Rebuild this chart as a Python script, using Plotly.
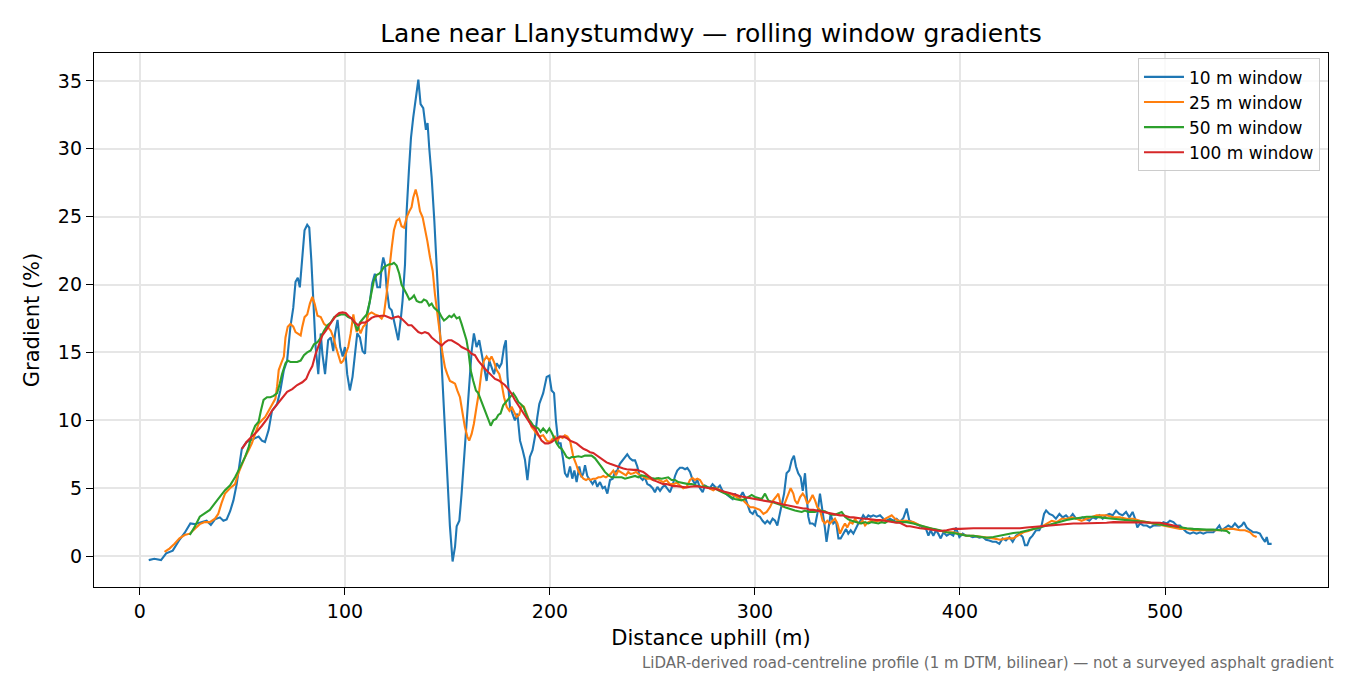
"""Rolling window gradients for the lane near Llanystumdwy, redrawn with plotly."""

import plotly.graph_objects as go

# 10 m window
dist_10 = [4.3, 7.0, 10.3, 12.8, 16.0, 19.3, 21.8, 24.6, 26.7, 29.2, 32.5, 34.6, 36.6, 39.0, 40.7, 42.3,
           44.0, 45.6, 47.2, 48.9, 49.7, 52.0, 55.4, 57.9, 59.5, 61.0, 62.8, 64.4, 66.9, 68.5, 70.2,
           71.8, 73.4, 74.8, 75.9, 77.0, 78.0, 79.2, 80.3, 81.6, 82.6, 83.6, 84.6, 85.7, 87.0, 88.2,
           89.0, 90.3, 91.8, 93.1, 94.3, 95.2, 96.4, 97.7, 98.9, 100.0, 101.1, 102.4, 103.7, 104.9,
           106.0, 107.3, 108.6, 109.8, 110.9, 112.2, 113.3, 114.6, 115.8, 117.1, 117.9, 118.7, 119.5,
           120.3, 121.6, 122.8, 123.9, 124.9, 126.0, 127.2, 128.1, 129.3, 130.1, 131.2, 132.2, 133.3,
           134.6, 135.8, 136.9, 138.2, 139.5, 140.3, 141.1, 142.3, 143.6, 145.0, 146.3, 147.6, 148.8,
           149.9, 151.2, 152.5, 153.7, 154.5, 155.8, 156.9, 158.0, 159.3, 160.6, 161.8, 162.9, 164.2,
           165.5, 166.7, 167.8, 169.1, 170.4, 171.5, 172.7, 174.0, 175.3, 176.4, 177.6, 178.5, 179.3,
           180.5, 181.8, 182.9, 184.1, 185.4, 186.7, 187.8, 189.0, 190.2, 191.5, 192.7, 193.8, 194.8,
           196.7, 198.4, 199.7, 200.8, 202.0, 202.9, 204.1, 205.2, 206.5, 207.3, 208.5, 209.8, 210.9,
           211.9, 213.0, 214.3, 215.4, 216.3, 217.1, 218.2, 219.5, 220.8, 222.0, 223.1, 224.4, 225.7,
           226.8, 228.0, 229.3, 230.6, 231.7, 232.8, 234.1, 235.4, 236.6, 237.7, 239.0, 240.3, 241.5,
           242.6, 243.9, 245.2, 246.3, 247.5, 248.8, 250.1, 251.2, 252.4, 253.7, 255.0, 256.1, 257.2,
           258.5, 259.8, 261.0, 262.1, 263.4, 264.7, 265.9, 267.0, 268.3, 269.6, 270.7, 271.9, 273.2,
           274.5, 275.6, 276.7, 278.0, 279.3, 280.5, 281.6, 282.9, 284.2, 285.4, 286.5, 287.8, 289.1,
           290.2, 291.4, 292.7, 294.0, 295.1, 296.3, 297.6, 298.9, 300.0, 301.1, 302.4, 303.7, 304.9,
           306.0, 307.3, 308.6, 309.8, 310.9, 311.9, 313.0, 314.2, 315.4, 316.7, 317.9, 319.0, 320.0,
           321.1, 322.3, 323.3, 324.4, 325.2, 326.0, 326.8, 328.1, 329.3, 330.4, 331.7, 333.0, 334.1,
           334.9, 335.8, 336.9, 338.2, 339.5, 340.7, 341.8, 343.1, 344.4, 345.5, 346.7, 348.0, 349.3,
           350.4, 351.5, 352.8, 354.1, 355.3, 356.4, 357.7, 359.3, 361.0, 362.6, 364.2, 365.9, 367.5,
           369.1, 370.7, 372.4, 374.0, 375.3, 376.9, 378.5, 380.2, 381.8, 383.4, 384.6, 385.7, 387.0,
           388.3, 389.4, 390.6, 391.9, 393.5, 395.1, 396.7, 398.0, 399.7, 401.3, 402.9, 404.6, 406.2,
           407.8, 409.4, 411.1, 412.7, 414.3, 415.9, 417.6, 419.2, 420.8, 422.4, 424.1, 425.7, 427.3,
           429.0, 430.6, 431.7, 432.8, 434.1, 435.4, 437.1, 438.7, 439.8, 441.0, 442.0, 443.6, 445.2,
           446.8, 448.5, 450.1, 451.7, 453.3, 455.0, 456.6, 458.2, 459.8, 461.5, 463.1, 464.7, 466.3,
           468.0, 469.6, 471.2, 472.8, 474.5, 476.1, 477.7, 479.3, 481.0, 482.6, 484.2, 485.4, 486.5,
           487.8, 489.4, 491.1, 492.7, 494.3, 495.9, 497.6, 499.2, 500.8, 502.4, 504.1, 505.7, 507.3,
           508.9, 510.6, 512.2, 513.8, 515.4, 517.1, 518.7, 520.3, 522.0, 523.6, 525.2, 526.5, 527.6,
           529.3, 530.9, 532.5, 534.1, 535.8, 537.4, 538.5, 539.8, 541.5, 543.1, 544.7, 546.3, 547.6,
           548.8, 549.6, 550.4, 552.0]
grad_10 = [-0.3, -0.2, -0.3, 0.2, 0.4, 1.2, 1.7, 2.4, 2.35, 2.45, 2.6, 2.3, 2.7, 2.85, 2.6, 2.7,
           3.3, 4.1, 5.3, 7.1, 7.9, 8.4, 8.65, 8.8, 8.5, 8.4, 9.3, 10.7, 11.2, 12.2, 13.7,
           14.4, 16.9, 18.3, 20.2, 20.5, 19.8, 22.0, 24.0, 24.4, 24.2, 21.8, 18.6, 15.4, 13.4, 16.4,
           14.9, 13.4, 15.9, 16.1, 15.1, 16.4, 17.4, 15.4, 14.7, 15.4, 13.4, 12.2, 13.2, 15.1,
           16.4, 16.1, 15.1, 14.9, 17.8, 18.8, 20.1, 20.8, 19.8, 19.8, 21.3, 22.0, 21.5,
           19.8, 18.3, 18.1, 17.4, 16.6, 15.9, 17.4, 18.8, 21.5, 25.4, 28.4, 30.8, 32.3,
           33.8, 35.1, 33.3, 33.0, 31.4, 31.9, 30.1, 27.9, 24.7, 20.5, 16.4, 13.2, 9.5,
           5.8, 2.2, -0.4, 0.7, 2.2, 2.6, 4.6, 7.1, 9.5, 12.7, 15.1, 16.4, 15.4,
           15.9, 14.9, 13.9, 12.9, 14.4, 13.9, 13.4, 14.2, 13.9, 14.2, 15.4, 15.9, 13.2,
           11.0, 10.5, 10.0, 10.5, 8.5, 7.8, 7.1, 5.6, 7.3, 7.8, 8.8, 10.2, 11.2,
           12.0, 13.2, 13.3, 12.2, 12.0, 10.0, 8.3, 8.3, 7.05, 6.1, 5.8, 6.6, 5.7,
           6.3, 5.45, 6.6, 5.8, 6.1, 6.7, 5.9, 5.6, 5.3, 5.6, 5.1, 5.45, 5.0,
           5.1, 4.6, 5.6, 5.7, 6.2, 6.3, 6.8, 7.05, 7.2, 7.5, 7.2, 7.05, 7.05,
           6.6, 5.8, 5.6, 5.8, 5.3, 5.2, 5.0, 4.7, 5.1, 4.8, 5.1, 5.2, 5.0,
           4.7, 5.2, 5.9, 6.3, 6.5, 6.5, 6.4, 6.5, 6.2, 5.6, 5.3, 5.6, 5.0,
           4.7, 5.2, 5.1, 5.0, 5.3, 5.1, 5.0, 5.2, 4.8, 4.7, 4.5, 4.35, 4.2,
           4.6, 4.35, 4.35, 4.7, 4.35, 3.85, 3.25, 3.1, 3.4, 3.0, 2.9, 2.6, 2.4,
           2.6, 2.4, 2.75, 2.6, 2.25, 2.9, 3.6, 4.6, 6.1, 6.3, 7.05, 7.4, 6.6,
           6.1, 5.8, 4.8, 6.1, 4.6, 2.9, 2.4, 2.4, 2.25, 3.1, 4.6, 3.4, 2.1,
           1.05, 2.1, 3.1, 2.4, 2.6, 1.3, 1.3, 1.65, 2.0, 1.65, 1.9, 1.65, 2.1,
           2.4, 2.6, 3.0, 2.75, 3.0, 2.9, 3.0, 2.9, 3.0, 2.75, 2.6, 2.75, 2.6,
           2.75, 2.5, 2.8, 3.5, 2.6, 2.5, 2.4, 2.25, 2.1, 2.0, 1.5, 1.9, 1.5,
           1.9, 1.65, 1.3, 1.75, 1.5, 1.65, 1.5, 2.1, 1.4, 1.65, 1.5, 1.5, 1.4,
           1.45, 1.35, 1.4, 1.2, 1.15, 1.05, 1.05, 0.9, 1.3, 1.15, 1.4, 1.05, 1.5,
           1.65, 1.4, 0.8, 0.8, 1.3, 1.5, 1.9, 1.9, 2.25, 3.1, 3.35, 3.1, 3.0,
           2.75, 3.1, 2.85, 3.0, 2.75, 3.1, 2.75, 2.75, 2.85, 2.75, 2.6, 2.85, 2.75,
           3.0, 2.75, 3.0, 3.1, 3.0, 3.35, 3.1, 3.0, 3.25, 2.85, 3.25, 2.75, 2.1,
           2.4, 2.25, 2.25, 2.1, 2.25, 2.25, 2.25, 2.5, 2.4, 2.6, 2.5, 2.25, 2.25,
           2.0, 1.75, 1.65, 1.75, 1.65, 1.75, 1.65, 1.75, 1.75, 1.75, 2.0, 2.25, 1.9,
           2.1, 2.25, 2.1, 2.4, 2.1, 2.25, 2.5, 2.1, 1.9, 1.75, 1.75, 1.65, 1.3,
           1.05, 1.4, 0.9, 0.9]

# 25 m window
dist_25 = [12.0, 14.4, 16.9, 19.3, 21.8, 24.3, 26.7, 29.2, 31.6, 34.1, 36.6, 38.2, 39.8, 41.5, 43.9,
           46.4, 48.0, 49.7, 51.3, 53.0, 54.6, 56.2, 57.9, 59.5, 61.1, 62.8, 64.4, 66.1, 66.9, 67.7,
           68.9, 70.2, 71.0, 72.1, 73.4, 74.8, 75.9, 77.0, 78.4, 79.2, 80.3, 81.6, 82.9, 84.1, 85.2,
           86.6, 88.2, 89.8, 91.5, 93.1, 94.4, 95.6, 96.7, 98.0, 99.2, 100.5, 101.6, 102.8, 104.1,
           104.9, 105.7, 106.5, 107.6, 108.9, 110.2, 111.4, 113.0, 114.6, 116.3, 117.9, 119.0, 120.3,
           121.6, 122.8, 123.9, 125.2, 126.5, 127.6, 128.8, 130.1, 131.4, 132.5, 133.3, 134.5, 135.5,
           136.6, 137.9, 139.0, 140.2, 141.5, 142.8, 143.9, 145.0, 146.3, 147.6, 148.8, 149.9, 151.2,
           152.5, 153.7, 154.8, 156.1, 157.4, 158.5, 159.7, 160.6, 161.8, 162.9, 164.2, 165.5, 166.7,
           167.8, 169.1, 170.4, 171.5, 172.7, 174.0, 175.3, 176.4, 177.6, 178.9, 180.2, 181.3, 182.4,
           183.7, 185.0, 186.2, 187.3, 188.6, 189.9, 191.1, 192.2, 193.5, 194.8, 196.7, 198.4, 200.0,
           201.3, 202.4, 203.6, 204.9, 206.2, 207.3, 208.5, 209.8, 210.6, 211.4, 212.7, 213.8, 215.0,
           216.3, 217.6, 218.7, 219.8, 221.1, 222.4, 223.6, 224.7, 226.0, 227.3, 228.5, 229.6, 230.9,
           232.2, 233.3, 234.5, 235.8, 237.1, 238.2, 239.3, 240.7, 242.0, 243.1, 244.2, 245.5, 247.2,
           248.8, 250.4, 252.0, 253.7, 255.3, 256.9, 258.5, 260.2, 261.8, 263.4, 265.0, 266.7, 268.3,
           269.6, 270.7, 271.9, 273.2, 274.8, 276.4, 278.0, 279.7, 281.3, 282.9, 284.6, 286.2, 287.8,
           289.4, 291.1, 292.7, 294.3, 295.9, 297.6, 299.2, 300.8, 302.4, 304.1, 305.7, 307.3, 308.9,
           310.2, 311.4, 312.5, 313.8, 315.1, 316.3, 317.4, 318.7, 319.5, 320.7, 322.0, 323.3, 324.4,
           325.5, 326.8, 328.1, 329.3, 330.4, 331.7, 333.0, 334.1, 335.3, 336.6, 337.9, 339.0, 340.2,
           341.5, 342.8, 343.9, 345.0, 346.3, 347.6, 348.8, 349.9, 351.2, 352.5, 353.7, 355.3, 356.9,
           358.5, 360.2, 361.8, 363.4, 365.0, 366.7, 368.3, 369.9, 371.5, 374.0, 377.2, 380.5, 383.7,
           387.0, 390.2, 393.5, 396.7, 400.0, 403.3, 406.5, 409.8, 413.0, 416.3, 419.5, 422.8, 426.0,
           428.5, 430.9, 433.3, 435.8, 439.0, 442.3, 444.7, 447.2, 449.6, 452.0, 454.5, 456.9, 459.3,
           461.8, 464.2, 466.7, 469.1, 471.5, 474.8, 478.0, 481.3, 484.6, 487.8, 491.1, 494.3, 497.6,
           500.8, 504.1, 507.3, 510.6, 513.8, 517.1, 520.3, 523.6, 526.8, 530.1, 533.3, 536.6, 539.0,
           541.5, 543.1, 544.7]
grad_25 = [0.3, 0.55, 0.9, 1.3, 1.55, 1.65, 2.0, 2.35, 2.5, 2.5, 2.75, 3.1, 3.9, 4.6, 5.0,
           5.3, 6.1, 6.8, 7.3, 7.8, 8.3, 9.0, 9.75, 10.0, 10.25, 10.7, 11.1, 11.6, 12.5, 13.7,
           14.2, 14.7, 16.1, 16.9, 17.1, 16.9, 16.5, 16.4, 16.25, 16.9, 17.6, 17.8, 18.6, 19.1, 18.6,
           17.7, 17.6, 17.1, 16.9, 16.6, 16.1, 15.4, 14.9, 14.2, 14.4, 14.9, 15.4, 16.4, 17.8,
           17.1, 16.5, 16.9, 16.4, 16.9, 17.1, 17.8, 17.95, 17.8, 17.7, 17.5, 17.8, 19.3,
           21.3, 22.7, 24.0, 24.7, 24.85, 24.3, 24.2, 24.95, 25.4, 25.7, 26.4, 27.0, 26.4,
           25.4, 24.95, 24.2, 23.2, 22.0, 21.0, 19.3, 17.8, 16.4, 14.9, 13.9, 13.4, 12.9,
           12.8, 12.7, 12.2, 11.7, 10.5, 9.5, 8.8, 8.5, 9.0, 9.75, 11.0, 12.2, 13.7,
           14.4, 14.7, 14.4, 14.7, 14.3, 13.7, 13.4, 12.7, 11.7, 11.0, 10.7, 11.0, 10.7,
           10.25, 10.4, 11.1, 11.0, 10.5, 10.0, 9.5, 9.3, 9.0, 8.8, 8.9, 8.5, 8.4,
           8.65, 8.8, 8.5, 8.8, 8.7, 8.9, 8.8, 8.5, 7.9, 7.3, 6.8, 6.3, 5.95,
           5.7, 5.6, 5.7, 5.6, 5.7, 5.7, 5.8, 5.8, 5.9, 5.8, 5.95, 6.05, 6.3,
           5.95, 6.3, 6.2, 6.05, 5.95, 6.2, 6.05, 6.1, 6.2, 6.05, 5.95, 5.8, 5.7,
           5.7, 5.6, 5.7, 5.6, 5.45, 5.6, 5.3, 5.3, 5.4, 5.2, 5.0, 5.1, 5.6,
           5.75, 5.6, 5.7, 5.6, 5.2, 5.1, 5.0, 4.85, 5.0, 4.85, 4.7, 4.6, 4.6,
           4.5, 4.35, 4.2, 4.1, 3.85, 3.6, 3.6, 3.5, 3.4, 3.1, 3.25, 3.6, 4.1,
           4.35, 4.6, 3.85, 3.6, 4.1, 4.6, 5.0, 4.6, 4.1, 3.85, 4.35, 4.6, 4.35,
           3.85, 4.1, 4.5, 4.1, 3.6, 3.4, 2.6, 2.4, 2.6, 2.4, 2.6, 2.75, 2.4,
           1.65, 2.1, 2.4, 2.1, 2.5, 2.4, 2.75, 2.5, 2.4, 2.6, 2.25, 2.5, 2.6,
           2.5, 2.6, 2.6, 2.75, 2.9, 3.0, 2.75, 2.6, 2.6, 2.6, 2.5, 2.25, 2.1,
           2.0, 1.9, 1.75, 1.75, 1.65, 1.5, 1.5, 1.45, 1.4, 1.3, 1.2, 1.3, 1.3,
           1.5, 1.75, 1.85, 2.0, 2.1, 2.4, 2.6, 2.5, 2.75, 2.75, 2.85, 2.75, 2.6,
           2.75, 2.85, 3.0, 3.0, 3.0, 2.85, 2.85, 2.75, 2.75, 2.6, 2.5, 2.4, 2.25,
           2.2, 2.1, 2.0, 2.0, 1.9, 1.9, 1.9, 1.85, 1.9, 2.0, 2.0, 1.9, 1.9,
           1.75, 1.5, 1.4]

# 50 m window
dist_50 = [24.3, 26.7, 29.2, 31.6, 34.1, 36.6, 39.0, 41.5, 43.9, 46.4, 48.9, 51.3, 53.0, 54.6, 56.2,
           57.9, 59.0, 60.3, 62.0, 63.6, 65.2, 66.9, 68.2, 69.3, 71.0, 72.1, 73.4, 75.1, 76.7, 78.4,
           80.0, 81.6, 83.3, 84.9, 86.6, 88.2, 89.8, 91.5, 93.1, 94.8, 96.4, 98.0, 100.0, 101.6,
           103.3, 104.9, 106.0, 107.3, 108.9, 110.6, 111.9, 113.0, 114.1, 115.4, 116.7, 117.9, 119.0,
           120.3, 121.6, 122.8, 123.9, 125.2, 126.5, 127.6, 128.8, 130.1, 131.4, 132.5, 133.7, 135.0,
           136.3, 137.4, 138.5, 139.8, 141.1, 142.3, 143.4, 144.7, 146.0, 147.2, 148.3, 149.6, 150.9,
           152.0, 153.2, 154.5, 155.8, 156.9, 158.0, 159.3, 160.2, 161.3, 162.6, 163.9, 165.0, 166.2,
           167.5, 168.8, 169.9, 171.1, 172.4, 173.7, 174.8, 175.9, 177.2, 178.5, 179.7, 180.8, 182.1,
           183.4, 184.6, 185.7, 187.0, 188.3, 189.4, 190.6, 191.9, 193.2, 194.3, 195.4, 196.7, 198.4,
           199.7, 200.8, 202.0, 203.3, 204.6, 205.7, 206.8, 208.1, 209.4, 210.6, 212.2, 213.8, 215.4,
           217.1, 218.7, 220.3, 222.0, 223.6, 225.2, 226.8, 228.5, 230.1, 231.7, 233.3, 235.0, 236.6,
           238.2, 239.8, 241.5, 243.1, 244.7, 246.3, 248.0, 249.6, 251.2, 252.8, 254.5, 256.1, 257.7,
           259.3, 261.0, 262.6, 264.2, 265.9, 267.5, 269.1, 270.7, 272.4, 274.0, 275.6, 277.2, 278.9,
           280.5, 282.1, 283.7, 285.4, 287.0, 288.6, 290.2, 291.9, 293.5, 295.1, 296.7, 298.4, 300.0,
           301.6, 303.3, 304.9, 306.5, 308.1, 309.8, 311.4, 313.0, 314.6, 316.3, 317.9, 319.5, 321.1,
           322.8, 324.4, 326.0, 327.6, 329.3, 330.9, 332.5, 334.1, 335.8, 337.4, 339.0, 340.7, 342.3,
           343.9, 345.5, 347.2, 348.8, 350.4, 352.0, 353.7, 355.3, 356.9, 358.5, 360.2, 361.8, 363.4,
           365.0, 366.7, 368.3, 369.9, 371.5, 374.0, 377.2, 380.5, 383.7, 387.0, 390.2, 393.5, 396.7,
           400.0, 403.3, 406.5, 409.8, 413.0, 416.3, 419.5, 422.8, 426.0, 429.3, 432.5, 435.8, 439.0,
           442.3, 445.5, 448.8, 452.0, 455.3, 458.5, 461.8, 465.0, 468.3, 471.5, 474.8, 478.0, 481.3,
           484.6, 487.8, 491.1, 494.3, 497.6, 500.8, 504.1, 507.3, 510.6, 513.8, 517.1, 520.3, 523.6,
           526.8, 530.1, 531.7]
grad_50 = [1.55, 2.15, 2.9, 3.15, 3.4, 3.9, 4.35, 4.85, 5.2, 5.8, 6.55, 7.3, 8.0, 9.0, 9.6,
           9.9, 10.7, 11.5, 11.7, 11.7, 11.8, 12.0, 12.7, 13.4, 14.2, 14.4, 14.3, 14.3, 14.3, 14.4,
           14.8, 15.0, 15.15, 15.6, 15.75, 16.1, 16.6, 17.0, 17.2, 17.6, 17.7, 17.8, 17.8, 17.6,
           17.5, 17.1, 16.6, 17.2, 17.5, 17.8, 18.6, 19.6, 20.3, 20.7, 20.8, 21.0, 21.3,
           21.4, 21.5, 21.5, 21.6, 21.4, 20.8, 20.0, 19.6, 19.3, 18.9, 19.0, 19.2, 18.8,
           18.7, 18.7, 18.9, 18.8, 18.45, 18.6, 18.3, 18.1, 17.95, 17.6, 17.35, 17.5, 17.7,
           17.6, 17.8, 17.5, 17.6, 17.1, 16.6, 15.9, 15.1, 13.7, 12.9, 12.2, 12.0, 11.5,
           11.0, 10.5, 10.0, 9.6, 10.0, 10.1, 10.4, 10.5, 11.1, 11.35, 11.6, 11.8, 12.0,
           11.7, 11.35, 11.2, 11.0, 10.5, 10.1, 9.9, 9.6, 9.5, 9.4, 9.15, 9.4, 9.1,
           9.4, 9.1, 8.65, 8.3, 8.0, 7.9, 7.65, 7.3, 7.2, 7.3, 7.3, 7.35, 7.3,
           7.4, 7.4, 7.4, 7.2, 6.9, 6.55, 6.2, 5.95, 5.8, 5.8, 5.75, 5.8, 5.7,
           5.75, 5.8, 5.9, 5.8, 5.95, 5.9, 5.8, 5.75, 5.7, 5.75, 5.7, 5.75, 5.8,
           5.6, 5.6, 5.45, 5.4, 5.3, 5.3, 5.3, 5.2, 5.15, 5.1, 5.15, 5.05, 5.0,
           5.0, 4.85, 4.7, 4.6, 4.5, 4.3, 4.2, 4.15, 4.1, 4.2, 4.35, 4.5, 4.35,
           4.3, 4.2, 4.6, 4.1, 4.0, 3.9, 3.85, 3.75, 3.6, 3.5, 3.4, 3.35, 3.3,
           3.25, 3.35, 3.25, 3.25, 3.25, 3.35, 3.35, 3.3, 3.15, 3.05, 3.05, 3.15, 3.25,
           2.9, 2.7, 2.6, 2.5, 2.45, 2.4, 2.5, 2.4, 2.5, 2.45, 2.4, 2.5, 2.45,
           2.6, 2.6, 2.5, 2.5, 2.45, 2.5, 2.4, 2.25, 2.1, 2.0, 1.9, 1.75, 1.7,
           1.6, 1.5, 1.5, 1.45, 1.35, 1.4, 1.5, 1.6, 1.7, 1.75, 1.85, 1.95, 2.1,
           2.25, 2.4, 2.55, 2.65, 2.75, 2.85, 2.9, 2.9, 2.85, 2.8, 2.8, 2.75, 2.65,
           2.6, 2.55, 2.5, 2.4, 2.3, 2.25, 2.2, 2.1, 2.05, 2.0, 1.95, 1.95, 1.95,
           1.9, 1.85, 1.65]

# 100 m window
dist_100 = [49.7, 52.0, 54.6, 57.0, 59.5, 62.0, 64.4, 66.9, 69.3, 71.8, 74.3, 76.7, 79.2, 81.1, 82.5,
            84.1, 85.7, 87.4, 89.0, 90.7, 92.3, 93.9, 95.6, 97.2, 98.9, 100.5, 101.6, 103.3, 104.9,
            106.5, 108.1, 109.8, 111.4, 113.0, 114.6, 116.3, 117.9, 119.5, 121.1, 122.8, 124.4, 126.0,
            127.6, 129.3, 130.9, 132.5, 134.1, 135.8, 137.4, 139.0, 140.7, 142.3, 143.9, 145.5, 147.2,
            148.8, 150.4, 152.0, 153.7, 155.3, 156.9, 158.5, 160.2, 161.8, 163.4, 165.0, 166.7, 168.3,
            169.9, 171.5, 173.2, 174.8, 176.4, 178.0, 179.7, 181.3, 182.9, 184.6, 186.2, 187.8, 189.4,
            191.1, 192.7, 194.3, 195.9, 197.6, 199.2, 200.8, 202.4, 204.9, 206.5, 208.1, 209.8, 211.4,
            213.0, 214.6, 216.3, 217.9, 219.5, 221.1, 222.8, 224.4, 226.0, 227.6, 229.3, 230.9, 232.5,
            234.1, 235.8, 237.4, 239.0, 240.7, 242.3, 243.9, 245.5, 247.2, 248.8, 250.4, 252.0, 253.7,
            255.3, 256.9, 258.5, 260.2, 261.8, 263.4, 265.0, 266.7, 268.3, 269.9, 271.5, 273.2, 274.8,
            276.4, 278.0, 279.7, 281.3, 282.9, 284.6, 286.2, 287.8, 289.4, 291.1, 292.7, 294.3, 295.9,
            297.6, 299.2, 300.8, 302.4, 304.1, 305.7, 307.3, 308.9, 310.6, 312.2, 313.8, 315.4, 317.1,
            318.7, 320.3, 322.0, 323.6, 325.2, 326.8, 328.5, 330.1, 331.7, 333.3, 335.0, 336.6, 338.2,
            339.8, 341.5, 343.1, 344.7, 346.3, 348.0, 349.6, 351.2, 352.8, 354.5, 356.1, 357.7, 359.3,
            361.0, 362.6, 364.2, 365.9, 367.5, 369.1, 370.7, 372.4, 374.0, 375.6, 377.2, 378.9, 380.5,
            383.7, 387.0, 390.2, 393.5, 396.7, 400.0, 403.3, 406.5, 409.8, 413.0, 416.3, 419.5, 422.8,
            426.0, 429.3, 432.5, 435.8, 439.0, 442.3, 445.5, 448.8, 452.0, 455.3, 458.5, 461.8, 465.0,
            468.3, 471.5, 474.8, 478.0, 481.3, 484.6, 487.8, 491.1, 494.3, 497.6, 500.8, 504.1, 507.0]
grad_100 = [7.9, 8.4, 8.8, 9.15, 9.6, 10.1, 10.7, 11.2, 11.6, 12.1, 12.3, 12.6, 12.8, 13.05, 13.55,
            14.0, 14.9, 15.6, 16.25, 16.6, 17.0, 17.35, 17.7, 17.9, 17.95, 17.9, 17.7, 17.5, 17.2,
            17.0, 17.2, 17.2, 17.35, 17.55, 17.65, 17.7, 17.7, 17.7, 17.6, 17.5, 17.6, 17.65,
            17.5, 17.2, 17.0, 17.0, 16.75, 16.5, 16.4, 16.5, 16.4, 16.1, 15.9, 15.7, 15.5,
            15.75, 15.9, 15.9, 15.75, 15.6, 15.4, 15.3, 15.15, 14.9, 14.8, 14.4, 14.05, 13.8,
            13.55, 13.3, 13.05, 12.95, 12.8, 12.6, 12.3, 11.95, 11.5, 11.1, 10.7, 10.4, 10.0,
            9.6, 9.4, 9.0, 8.5, 8.3, 8.3, 8.4, 8.6, 8.8, 8.8, 8.7, 8.5, 8.4,
            8.3, 8.1, 7.9, 7.8, 7.65, 7.6, 7.4, 7.25, 7.05, 6.9, 6.8, 6.7, 6.6,
            6.5, 6.45, 6.4, 6.35, 6.35, 6.35, 6.3, 6.2, 6.0, 5.8, 5.6, 5.5, 5.4,
            5.3, 5.3, 5.2, 5.15, 5.15, 5.1, 5.1, 5.05, 5.1, 5.15, 5.15, 5.1, 5.05,
            5.0, 5.0, 5.0, 4.9, 4.85, 4.75, 4.7, 4.65, 4.6, 4.5, 4.4, 4.35, 4.35,
            4.3, 4.2, 4.15, 4.1, 4.1, 4.05, 4.0, 4.0, 3.9, 3.85, 3.8, 3.75, 3.7,
            3.6, 3.6, 3.55, 3.5, 3.5, 3.4, 3.4, 3.35, 3.3, 3.3, 3.25, 3.15, 3.1,
            3.05, 3.0, 3.0, 2.9, 2.85, 2.85, 2.8, 2.8, 2.75, 2.75, 2.7, 2.7, 2.65,
            2.65, 2.6, 2.6, 2.5, 2.5, 2.45, 2.45, 2.35, 2.2, 2.2, 2.15, 2.05, 2.05,
            2.0, 1.9, 1.85, 1.9, 2.0, 2.0, 2.05, 2.05, 2.05, 2.05, 2.0, 2.0, 2.0,
            2.0, 2.05, 2.1, 2.15, 2.2, 2.25, 2.25, 2.3, 2.35, 2.4, 2.4, 2.4, 2.45,
            2.45, 2.45, 2.5, 2.5, 2.5, 2.5, 2.5, 2.5, 2.5, 2.45, 2.35, 2.25, 2.15]

series = [
    ("10 m window", dist_10, grad_10, "#1f77b4"),
    ("25 m window", dist_25, grad_25, "#ff7f0e"),
    ("50 m window", dist_50, grad_50, "#2ca02c"),
    ("100 m window", dist_100, grad_100, "#d62728"),
]

FONT = "DejaVu Sans"

fig = go.Figure()

for name, xs, ys, colour in series:
    fig.add_trace(go.Scatter(x=xs, y=ys, mode="lines", name=name,
                             line=dict(color=colour, width=2.1)))

fig.update_layout(
    width=1350, height=675,
    margin=dict(l=94, r=22, t=53, b=88),
    paper_bgcolor="white", plot_bgcolor="white",
    font=dict(family=FONT, color="black"),
    title=dict(text="Lane near Llanystumdwy — rolling window gradients",
               x=0.5, xref="paper", xanchor="center",
               y=1 - 33 / 675, yref="container", yanchor="middle",
               font=dict(size=25, family=FONT, color="black")),
    legend=dict(x=0.9935, y=0.99, xanchor="right", yanchor="top", itemwidth=40,
                bgcolor="rgba(255,255,255,0.8)", bordercolor="#cccccc", borderwidth=1,
                font=dict(size=17, family=FONT)),
    showlegend=True,
)

fig.update_xaxes(range=[-22.4, 579.5], tickvals=[0, 100, 200, 300, 400, 500],
                 showline=True, mirror=True, linecolor="black", linewidth=1.4,
                 ticks="outside", ticklen=7, tickwidth=1.4, tickcolor="black",
                 showgrid=True, gridcolor="#e6e6e6", gridwidth=1.5, zeroline=False,
                 tickfont=dict(size=19, family=FONT),
                 title=dict(text="Distance uphill (m)", font=dict(size=21, family=FONT), standoff=9))
fig.update_yaxes(range=[-2.28, 37.06], tickvals=[0, 5, 10, 15, 20, 25, 30, 35],
                 showline=True, mirror=True, linecolor="black", linewidth=1.4,
                 ticks="outside", ticklen=7, tickwidth=1.4, tickcolor="black",
                 showgrid=True, gridcolor="#e6e6e6", gridwidth=1.5, zeroline=False,
                 tickfont=dict(size=19, family=FONT),
                 title=dict(text="Gradient (%)", font=dict(size=21, family=FONT), standoff=12))

# footnote under the axis, right aligned
fig.add_annotation(text="LiDAR-derived road-centreline profile (1 m DTM, bilinear) — not a surveyed asphalt gradient",
                   xref="paper", yref="paper", x=(1336 - 94) / 1234, y=(587 - 663) / 534,
                   xanchor="right", yanchor="middle", showarrow=False,
                   font=dict(size=15, family=FONT, color="#6b6b6b"))

fig.write_html("out.html", config={"displayModeBar": False},
               post_script="document.body.style.margin='0';")
